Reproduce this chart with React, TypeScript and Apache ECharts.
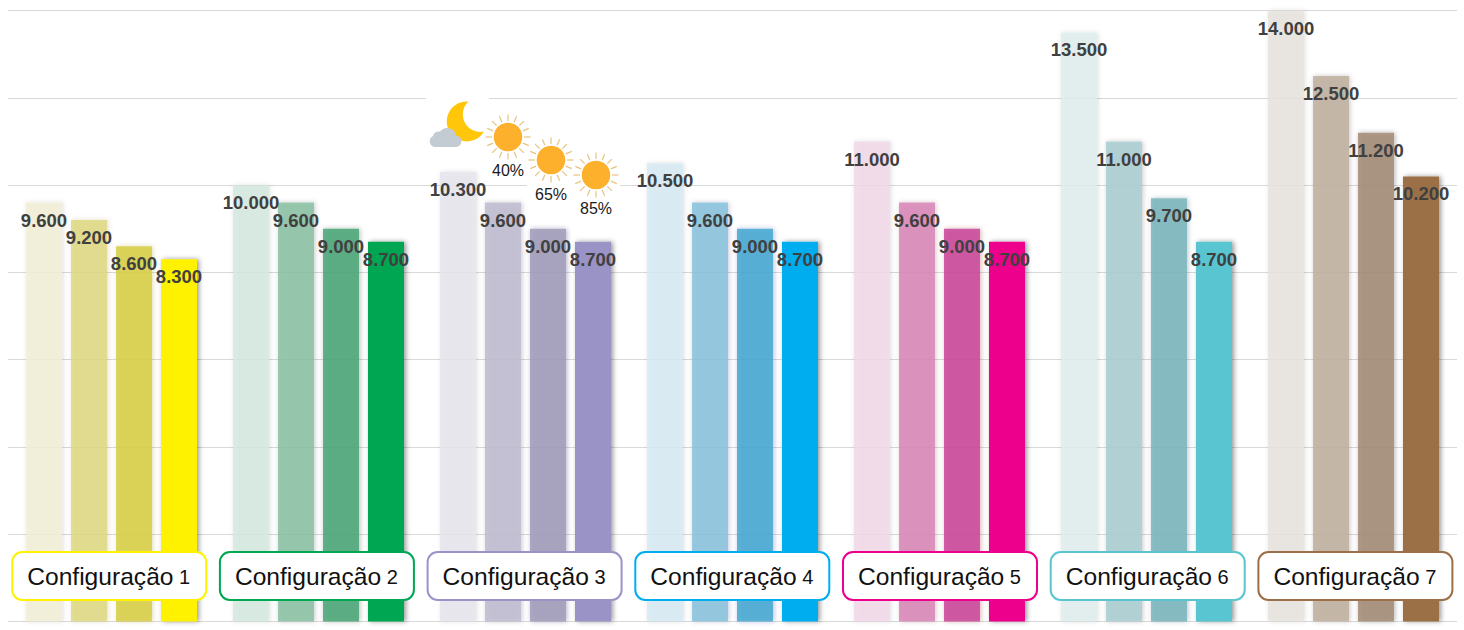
import React, { useEffect, useRef } from "react";
import * as echarts from "echarts";

const configNames = ["Configuração 1", "Configuração 2", "Configuração 3", "Configuração 4", "Configuração 5", "Configuração 6", "Configuração 7"];
const valuesA = [9600, 10000, 10300, 10500, 11000, 13500, 14000];
const valuesB = [9200, 9600, 9600, 9600, 9600, 11000, 12500];
const valuesC = [8600, 9000, 9000, 9000, 9000, 9700, 11200];
const valuesD = [8300, 8700, 8700, 8700, 8700, 8700, 10200];
const weatherLabels = ["40%", "65%", "85%"];

const coloursA = ["#F3F1DC", "#DBECE4", "#EAE9EF", "#DCEDF5", "#F4DDEC", "#E4F0F0", "#EBE8E3"];
const coloursB = ["#E3DF94", "#9ACAB0", "#C8C5D7", "#99CBE2", "#DE97C2", "#B6D5D9", "#C8BBAC"];
const coloursC = ["#DDD662", "#65B38B", "#AFABC4", "#62B5D8", "#D261A8", "#8DC0C6", "#B09C8A"];
const coloursD = ["#FFF200", "#00A651", "#9A93C6", "#00ADEF", "#EC008C", "#59C5D1", "#9B7047"];

const FONT = "'Liberation Sans', Arial, sans-serif";

const formatValue = (v: number) => String(v).replace(/\B(?=(\d{3})+$)/g, ".");

function withAlpha(hex: string, a: number) {
  const n = parseInt(hex.slice(1), 16);
  const ch = [(n >> 16) & 255, (n >> 8) & 255, n & 255].map((c) =>
    Math.max(0, Math.round((c - 255 * (1 - a)) / a))
  );
  return `rgba(${ch[0]},${ch[1]},${ch[2]},${a})`;
}

echarts.graphic.registerShape(
  "moonIcon",
  echarts.graphic.extendPath("M48.5 11.5 A20 20 0 1 0 64 41.5 A17.5 17.5 0 0 1 48.5 11.5 Z", {})
);
echarts.graphic.registerShape(
  "cloudIcon",
  echarts.graphic.extendPath(
    "M15.5 57 A5.8 5.8 0 0 1 13 46 A6 6 0 0 1 20 41.5 A9 9 0 0 1 36 45.5 A5.8 5.8 0 0 1 36.5 57 Z",
    {}
  )
);

function sunGraphic(cx: number, cy: number, label: string, textDy: number) {
  const rays: any[] = [];
  for (let i = 0; i < 16; i++) {
    const t = (i * Math.PI) / 8;
    rays.push({
      type: "line",
      z: 31,
      shape: {
        x1: cx + 16 * Math.cos(t),
        y1: cy + 16 * Math.sin(t),
        x2: cx + 22.5 * Math.cos(t),
        y2: cy + 22.5 * Math.sin(t),
      },
      style: { stroke: "#E6C383", lineWidth: 1.2 },
    });
  }
  return [
    { type: "rect", z: 30, shape: { x: cx - 24, y: cy - 24, width: 48, height: 68 }, style: { fill: "#fff" } },
    ...rays,
    { type: "circle", z: 32, shape: { cx, cy, r: 14.3 }, style: { fill: "#FDB02B" } },
    {
      type: "text",
      z: 32,
      style: {
        text: label,
        x: cx,
        y: cy + textDy,
        align: "center",
        verticalAlign: "middle",
        fill: "#1a1a1a",
        font: `16px ${FONT}`,
      },
    },
  ];
}

function barSeries(values: number[], colours: string[], alpha: number, shadow: number) {
  return {
    type: "bar",
    barWidth: 36,
    barGap: "25%",
    data: values.map((value, i) => ({
      value,
      itemStyle: {
        color: alpha < 1 ? withAlpha(colours[i], alpha) : colours[i],
        shadowColor: alpha < 1 ? withAlpha(coloursC[i], shadow) : `rgba(0,0,0,${shadow})`,
        shadowBlur: alpha < 1 ? 5 : 5,
        shadowOffsetX: alpha < 1 ? 1 : 2,
        shadowOffsetY: 0,
      },
    })),
    label: {
      show: true,
      position: "insideTop",
      distance: 8,
      color: "#404040",
      fontFamily: FONT,
      fontWeight: "bold",
      fontSize: 18.5,
      formatter: (p: any) => formatValue(p.value),
    },
    z: 2,
  };
}

export default function App() {
  const ref = useRef<HTMLDivElement>(null);

  useEffect(() => {
    const chart = echarts.init(ref.current!, null, { renderer: "svg" });
    chart.setOption({
      animation: false,
      backgroundColor: "#fff",
      grid: { left: 8, right: 7, top: 10.6, height: 610.9 },
      xAxis: {
        type: "category",
        data: configNames,
        axisLine: { show: false },
        axisTick: { show: false },
        axisLabel: { show: false },
      },
      yAxis: {
        type: "value",
        min: 0,
        max: 14000,
        interval: 2000,
        axisLabel: { show: false },
        axisLine: { show: false },
        axisTick: { show: false },
        splitLine: { lineStyle: { color: "#D9D9D9", width: 1 } },
      },
      series: [
        barSeries(valuesA, coloursA, 0.85, 0.15),
        barSeries(valuesB, coloursB, 0.85, 0.25),
        barSeries(valuesC, coloursC, 0.85, 0.35),
        barSeries(valuesD, coloursD, 1, 0.4),
        {
          type: "custom",
          z: 10,
          silent: true,
          data: configNames.map((_, i) => i),
          encode: { x: 0 },
          renderItem: (_: any, api: any) => {
            const i = api.value(0);
            const [x0, y0] = api.coord([i, 0]);
            const cx = x0 - 2.3 + i * 0.7;
            const [word, digit] = configNames[i].split(" ");
            return {
              type: "group",
              children: [
                {
                  type: "rect",
                  shape: { x: cx - 97, y: y0 - 69.5, width: 194, height: 48, r: 10 },
                  style: { fill: "#fff", stroke: coloursD[i], lineWidth: 2 },
                },
                {
                  type: "text",
                  style: {
                    text: `{a|${word}}{b| ${digit}}`,
                    x: cx - 0.5,
                    y: y0 - 45,
                    align: "center",
                    verticalAlign: "middle",
                    rich: {
                      a: { font: `24.6px ${FONT}`, fill: "#111", color: "#111" },
                      b: { font: `20px ${FONT}`, fill: "#111", color: "#111" },
                    },
                  },
                },
              ],
            };
          },
        },
      ],
      graphic: [
        {
          type: "group",
          z: 20,
          silent: true,
          children: [
            { type: "rect", z: 30, shape: { x: 426, y: 90, width: 63, height: 62 }, style: { fill: "#fff" } },
            { type: "moonIcon", z: 31, x: 420, y: 90, style: { fill: "#FFC60A" } },
            { type: "cloudIcon", z: 32, x: 420, y: 90, style: { fill: "#C3CBD3" } },
            ...sunGraphic(508, 137, weatherLabels[0], 33),
            ...sunGraphic(551, 160, weatherLabels[1], 34),
            ...sunGraphic(596, 175, weatherLabels[2], 33),
          ],
        },
      ],
    });
    return () => chart.dispose();
  }, []);

  return (
    <div
      ref={ref}
      style={{ position: "absolute", left: 0, top: 0, width: 1464, height: 630 }}
    />
  );
}
